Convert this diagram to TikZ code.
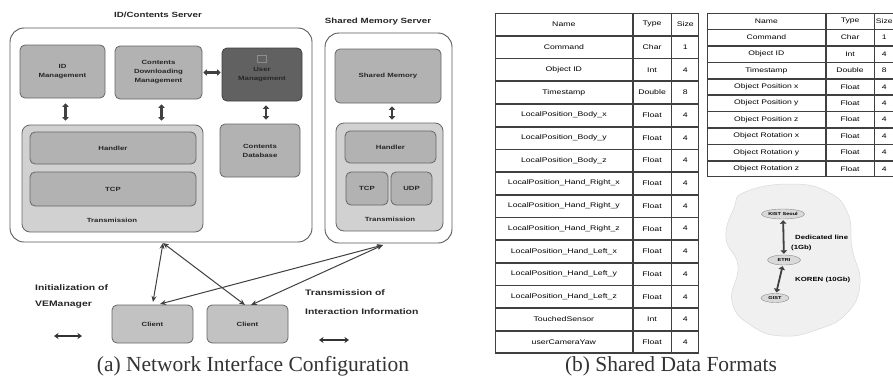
\documentclass[tikz,border=0pt]{standalone}
\usepackage{fontspec}
\setmainfont{Liberation Serif}
\newfontfamily\labfont[FakeStretch=1.3]{Liberation Sans}
\usetikzlibrary{arrows.meta,shapes.geometric,matrix,calc}

\begin{document}
\begin{tikzpicture}[x=1pt,y=-1pt,
  outerbox/.style={draw=black!65, line width=0.9pt, rounded corners=14pt, fill=white, inner sep=0pt},
  modbox/.style={draw=black!60, line width=0.8pt, fill=black!30, rounded corners=5pt,
                 inner sep=0pt, align=center, text=black!85,
                 font=\labfont\bfseries\fontsize{6}{9}\selectfont},
  darkbox/.style={modbox, fill=black!62, draw=black!75},
  panelbox/.style={modbox, fill=black!18, rounded corners=8pt},
  clientbox/.style={modbox, fill=black!24},
  title/.style={font=\labfont\bfseries\fontsize{7.5}{9}\selectfont, text=black!85},
  smalllbl/.style={font=\labfont\bfseries\fontsize{6}{7}\selectfont, text=black!85},
  note/.style={font=\labfont\bfseries\fontsize{8}{9}\selectfont, text=black!85, anchor=west, inner sep=0pt},
  caption/.style={font=\fontsize{21.5}{24}\selectfont, text=black!80},
  thickarrow/.style={line width=2.4pt, draw=black!75,
                     {Triangle[length=3.5pt,width=6.5pt]}-{Triangle[length=3.5pt,width=6.5pt]}},
  link/.style={line width=1pt, draw=black!75,
               {Stealth[length=6pt,width=5pt]}-{Stealth[length=6pt,width=5pt]}},
  legendarrow/.style={line width=1.3pt, draw=black!80,
               {Stealth[length=4.5pt,width=6pt]}-{Stealth[length=4.5pt,width=6pt]}},
  tabcell/.style={draw=black!75, line width=0.7pt, inner sep=0pt, outer sep=0pt, anchor=center},
  mapsite/.style={ellipse, draw=black!45, fill=black!15, inner sep=0.5pt,
                  font=\labfont\bfseries\fontsize{4.3}{5}\selectfont},
  maplbl/.style={font=\labfont\bfseries\fontsize{6}{7}\selectfont, anchor=west, inner sep=0pt}
]
\useasboundingbox (0,0) rectangle (893,380);
\fill[white] (0,0) rectangle (893,380);

% ---------------- ID/Contents server ----------------
\node[title] (idcTitle) at (158,15) {ID/Contents Server};
\node[outerbox, minimum width=302pt, minimum height=214pt] (idc) at (161,135) {};

\node[modbox, minimum width=85pt, minimum height=53pt] (idm) at (62.5,71.5) {ID\\Management};
\node[modbox, minimum width=87pt, minimum height=53pt] (cdm) at (158.5,72.5) {Contents\\Downloading\\Management};
\node[darkbox, minimum width=80pt, minimum height=53pt] (usm) at (262,74.5) {User\\Management};
\node[draw=black!45, line width=0.6pt, minimum width=9pt, minimum height=7pt, inner sep=0pt] (usmIcon) at (262,59) {};

\node[panelbox, minimum width=181pt, minimum height=107pt] (tr1) at (112.5,178.5) {};
\node[modbox, minimum width=166pt, minimum height=32pt] (hd1) at (113,148) {Handler};
\node[modbox, minimum width=166pt, minimum height=34pt] (tcp1) at (113,189) {TCP};
\node[smalllbl] (tr1lbl) at (112,220) {Transmission};

\node[modbox, minimum width=80pt, minimum height=53pt] (cdb) at (260,150.5) {Contents\\Database};

\draw[thickarrow, shorten <=5pt, shorten >=4pt] ([xshift=3pt]idm.south) -- ([xshift=3pt]idm.south |- tr1.north);
\draw[thickarrow, shorten <=5pt, shorten >=4pt] ([xshift=3pt]cdm.south) -- ([xshift=3pt]cdm.south |- tr1.north);
\draw[thickarrow, shorten <=4pt, shorten >=4pt] ([xshift=4pt]usm.south) -- ([xshift=4pt]usm.south |- cdb.north);
\draw[thickarrow, shorten <=1pt, shorten >=1pt] (cdm.east) -- (cdm.east -| usm.west);

% ---------------- Shared memory server ----------------
\node[title] (smsTitle) at (378,22) {Shared Memory Server};
\node[outerbox, minimum width=127pt, minimum height=210pt] (sms) at (388.5,138) {};

\node[modbox, minimum width=106pt, minimum height=54pt] (shm) at (388,76) {Shared Memory};
\node[panelbox, minimum width=107pt, minimum height=108pt] (tr2) at (389.5,177) {};
\node[modbox, minimum width=91pt, minimum height=32pt] (hd2) at (390.5,147) {Handler};
\node[modbox, minimum width=42pt, minimum height=33pt] (tcp2) at (367,188.5) {TCP};
\node[modbox, minimum width=41pt, minimum height=33pt] (udp2) at (411.5,188.5) {UDP};
\node[smalllbl] (tr2lbl) at (390,219) {Transmission};

\draw[thickarrow, shorten <=3pt, shorten >=3pt] ([xshift=4pt]shm.south) -- ([xshift=4pt]shm.south |- tr2.north);

% ---------------- Clients and links ----------------
\node[clientbox, minimum width=81pt, minimum height=38pt] (cl1) at (152.5,324) {Client};
\node[clientbox, minimum width=81pt, minimum height=38pt] (cl2) at (247.5,324) {Client};

\coordinate (hubA) at (163,243);
\coordinate (hubB) at (383,245);
\coordinate (c1a) at (153,302);
\coordinate (c1b) at (160,304);
\coordinate (c2a) at (245,305);
\coordinate (c2b) at (251,305);

\draw[link] (hubA) -- (c1a);
\draw[link] (hubA) -- (c2a);
\draw[link] (hubB) -- (c1b);
\draw[link] (hubB) -- (c2b);

% legend
\node[note] (initA) at (35,288) {Initialization of};
\node[note] (initB) at (35,305) {VEManager};
\coordinate (legA1) at (54,336);
\coordinate (legA2) at (82,336);
\draw[legendarrow] (legA1) -- (legA2);

\node[note] (txA) at (305,293) {Transmission of};
\node[note] (txB) at (305,312) {Interaction Information};
\coordinate (legB1) at (319,340);
\coordinate (legB2) at (349,340);
\draw[legendarrow] (legB1) -- (legB2);

\node[caption] (capA) at (253,366) {(a) Network Interface Configuration};

% ---------------- Table of avatar data ----------------
\matrix (tabA) [matrix of nodes, anchor=north west, inner sep=0pt, outer sep=0pt,
  column sep=0pt, row sep=0pt,
  nodes={tabcell, minimum height=22pt, font=\labfont\fontsize{6.7}{7.5}\selectfont},
  column 1/.style={nodes={minimum width=137pt}},
  column 2/.style={nodes={minimum width=38pt}},
  column 3/.style={nodes={minimum width=27pt}}] at (495,13) {
  Name & Type & Size \\
  Command & Char & 1 \\
  Object ID & Int & 4 \\
  Timestamp & Double & 8 \\
  LocalPosition\_Body\_x & Float & 4 \\
  LocalPosition\_Body\_y & Float & 4 \\
  LocalPosition\_Body\_z & Float & 4 \\
  LocalPosition\_Hand\_Right\_x & Float & 4 \\
  LocalPosition\_Hand\_Right\_y & Float & 4 \\
  LocalPosition\_Hand\_Right\_z & Float & 4 \\
  LocalPosition\_Hand\_Left\_x & Float & 4 \\
  LocalPosition\_Hand\_Left\_y & Float & 4 \\
  LocalPosition\_Hand\_Left\_z & Float & 4 \\
  TouchedSensor & Int & 4 \\
  userCameraYaw & Float & 4 \\
};
\draw[line width=1.4pt, draw=black!75] (tabA-1-1.north west) rectangle (tabA-15-3.south east);

% ---------------- Table of object data ----------------
\matrix (tabB) [matrix of nodes, anchor=north west, inner sep=0pt, outer sep=0pt,
  column sep=0pt, row sep=0pt,
  nodes={tabcell, minimum height=15.7pt, font=\labfont\fontsize{6.6}{7}\selectfont},
  column 1/.style={nodes={minimum width=118pt}},
  column 2/.style={nodes={minimum width=48pt}},
  column 3/.style={nodes={minimum width=19pt}}] at (707,13) {
  Name & Type & Size \\
  Command & Char & 1 \\
  Object ID & Int & 4 \\
  Timestamp & Double & 8 \\
  Object Position x & Float & 4 \\
  Object Position y & Float & 4 \\
  Object Position z & Float & 4 \\
  Object Rotation x & Float & 4 \\
  Object Rotation y & Float & 4 \\
  Object Rotation z & Float & 4 \\
};
\draw[line width=1.4pt, draw=black!75] (tabB-1-1.north west) rectangle (tabB-10-3.south east);

% ---------------- Network map ----------------
\fill[black!6, draw=black!15, line width=0.5pt]
  plot[smooth cycle, tension=0.8] coordinates {
    (745,192) (790,184) (828,192) (848,214) (852,248) (860,284)
    (846,314) (816,330) (782,336) (752,326) (732,302) (738,266) (726,238) (734,208)};

\node[mapsite, minimum width=38pt, minimum height=10pt] (siteA) at (783,214) {KIST Seoul};
\node[mapsite, minimum width=33pt, minimum height=10pt] (siteB) at (784,260) {ETRI};
\node[mapsite, minimum width=28pt, minimum height=9pt] (siteC) at (775,298) {GIST};

\draw[thickarrow, line width=1.8pt, shorten <=1pt, shorten >=1pt] (siteA) -- (siteB);
\draw[thickarrow, line width=1.8pt, shorten <=1pt, shorten >=1pt] (siteB) -- (siteC);

\node[maplbl] (lineA) at (795,237) {Dedicated line};
\node[maplbl] (lineAb) at (791,248) {(1Gb)};
\node[maplbl] (lineB) at (795,280) {KOREN (10Gb)};

\node[caption] (capB) at (671,366) {(b) Shared Data Formats};
\end{tikzpicture}
\end{document}
